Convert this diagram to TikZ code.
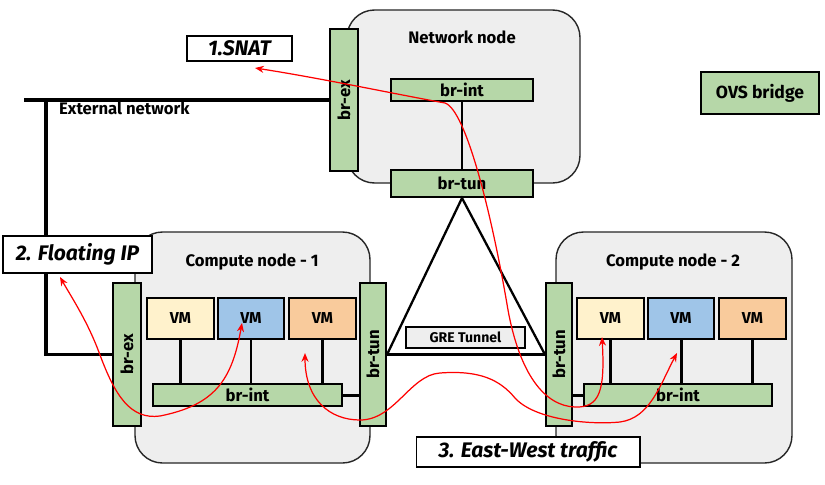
\documentclass[tikz,border=0pt]{standalone}
\usepackage{fontspec}
\setmainfont{Fira Sans}
\usepackage{tikz}
\usetikzlibrary{arrows.meta}
\definecolor{ovsGreen}{HTML}{B6D7A8}
\definecolor{vmYellow}{HTML}{FFF2CC}
\definecolor{vmBlue}{HTML}{9FC5E8}
\definecolor{vmOrange}{HTML}{F9CB9C}
\definecolor{hostGray}{HTML}{EEEEEE}
\begin{document}
\begin{tikzpicture}[x=0.02cm, y=-0.02cm,
	host/.style={draw=black!85, fill=hostGray, line width=0.8pt, rounded corners=0.55cm},
	bridge/.style={draw=black, fill=ovsGreen, line width=1.2pt, inner sep=0pt, font=\bfseries\fontsize{9.5}{11}\selectfont},
	vm/.style={draw=black, line width=1.2pt, inner sep=0pt, minimum width=1.33cm, minimum height=0.82cm, font=\bfseries\fontsize{9}{11}\selectfont},
	tag/.style={draw=black, fill=white, line width=0.6pt, inner sep=0pt, font=\bfseries\itshape\fontsize{12}{14}\selectfont},
	title/.style={font=\bfseries\fontsize{9.5}{11}\selectfont},
	link/.style={line width=1.7pt},
	wire/.style={line width=2.2pt},
	flow/.style={red, line width=0.7pt, {Stealth[length=5pt,width=4pt]}-{Stealth[length=5pt,width=4pt]}}]
	\useasboundingbox[fill=white] (0,0) rectangle (825,484);

	% hosts
	\draw[host] (347,10) rectangle (580,183);
	\draw[host] (135,232) rectangle (370,463);
	\draw[host] (556,232) rectangle (792,463);
	\node[title] (nettitle) at (462,37) {Network node};
	\node[title] (c1title) at (252,262) {Compute node - 1};
	\node[title] (c2title) at (673,262) {Compute node - 2};

	% network node bridges
	\node[bridge, rotate=90, minimum width=2.84cm, minimum height=0.56cm] (nbrex) at (344,100) {br-ex};
	\node[bridge, minimum width=2.84cm, minimum height=0.44cm] (nbrint) at (462,90) {br-int};
	\node[bridge, minimum width=2.84cm, minimum height=0.54cm] (nbrtun) at (462,183.5) {br-tun};
	\node[bridge, minimum width=2.36cm, minimum height=0.84cm, font=\bfseries\fontsize{10}{12}\selectfont] (legend) at (760,93) {OVS bridge};

	% compute node 1
	\node[bridge, rotate=90, minimum width=2.86cm, minimum height=0.56cm] (c1brex) at (127,354.5) {br-ex};
	\node[vm, fill=vmYellow] (c1vma) at (180.5,318.5) {VM};
	\node[vm, fill=vmBlue] (c1vmb) at (251,318.5) {VM};
	\node[vm, fill=vmOrange] (c1vmc) at (322.5,318.5) {VM};
	\node[bridge, minimum width=3.78cm, minimum height=0.44cm] (c1brint) at (247.5,395) {br-int};
	\node[bridge, rotate=90, minimum width=2.86cm, minimum height=0.52cm] (c1brtun) at (373,354.5) {br-tun};

	% compute node 2
	\node[bridge, rotate=90, minimum width=2.86cm, minimum height=0.52cm] (c2brtun) at (559,354.5) {br-tun};
	\node[vm, fill=vmYellow] (c2vma) at (610.5,318.5) {VM};
	\node[vm, fill=vmBlue] (c2vmb) at (681,318.5) {VM};
	\node[vm, fill=vmOrange] (c2vmc) at (752.5,318.5) {VM};
	\node[bridge, minimum width=3.76cm, minimum height=0.44cm] (c2brint) at (678,395) {br-int};

	% external network
	\coordinate (extend) at (24,100);
	\coordinate (extdrop) at (46,100);
	\draw[wire] (extend) -- (nbrex.north);
	\draw[wire] (extdrop) -- (extdrop |- c1brex.north) -- (c1brex.north);
	\node[title, anchor=west] (extlabel) at (53,108) {External network};

	% links inside hosts
	\draw[line width=1.2pt] (nbrint) -- (nbrtun);
	\foreach \vm in {c1vma, c1vmb, c1vmc}
		\draw[link] (\vm.south) -- (\vm.south |- c1brint.north);
	\foreach \vm in {c2vma, c2vmb, c2vmc}
		\draw[link] (\vm.south) -- (\vm.south |- c2brint.north);
	\draw[link] (c1brint.east) -- (c1brint.east -| c1brtun.north);
	\draw[link] (c2brint.west) -- (c2brint.west -| c2brtun.south);

	% GRE tunnel
	\draw[line width=1.3pt] (c1brtun.south) -- (nbrtun.south) -- (c2brtun.north);
	\draw[wire] (c1brtun.south) -- (c2brtun.north);
	\node[draw=black, fill=hostGray, line width=0.8pt, minimum width=2.38cm, minimum height=0.42cm, inner sep=0pt, font=\bfseries\fontsize{8}{10}\selectfont] (gre) at (465.5,337.5) {GRE Tunnel};

	% traffic labels
	\node[tag, minimum width=2.10cm, minimum height=0.50cm] (snat) at (239.5,48.5) {1.SNAT};
	\node[tag, minimum width=2.98cm, minimum height=0.74cm] (fip) at (77.5,254.5) {2. Floating IP};
	\node[tag, minimum width=4.48cm, minimum height=0.60cm] (ew) at (528,452) {3. East-West traffic};

	% flows
	\coordinate (snatend) at (255,68);
	\coordinate (snatvm) at (602,337);
	\coordinate (fipend) at (60,277);
	\coordinate (fipvm) at (242,323);
	\coordinate (ewvma) at (305,353);
	\coordinate (ewvmb) at (677,353);
	\draw[flow] (snatvm) .. controls (605,390) and (600,408) .. (575,407) .. controls (545,406) and (520,375) .. (508,310) .. controls (492,215) and (466,110) .. (445,103) .. controls (400,95) and (320,78) .. (snatend);
	\draw[flow] (fipvm) .. controls (232,380) and (215,405) .. (160,416) .. controls (130,420) and (115,395) .. (100,355) .. controls (88,322) and (72,298) .. (fipend);
	\draw[flow] (ewvma) .. controls (305,400) and (330,420) .. (360,420) .. controls (395,420) and (410,375) .. (440,373) .. controls (480,370) and (500,380) .. (515,398) .. controls (535,420) and (590,425) .. (620,422) .. controls (650,418) and (660,385) .. (ewvmb);
\end{tikzpicture}
\end{document}
